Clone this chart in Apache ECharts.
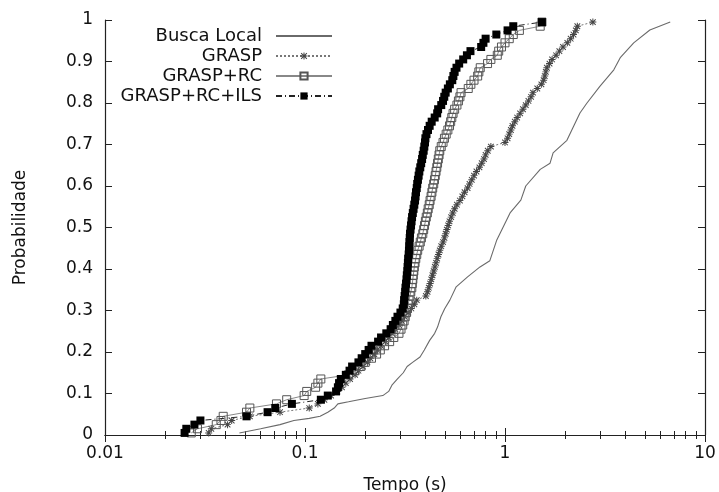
<!DOCTYPE html>
<html><head><meta charset="utf-8">
<script src="https://cdn.jsdelivr.net/npm/echarts@6/dist/echarts.min.js"></script>
<style>html,body{margin:0;padding:0;background:#fff}#c{width:719px;height:492px}</style>
</head><body><div id="c"></div>
<script>
const seriesNames = ['Busca Local', 'GRASP', 'GRASP+RC', 'GRASP+RC+ILS'];
const xTickLabels = ['0.01', '0.1', '1', '10'];
const yTickLabels = ['0','0.1','0.2','0.3','0.4','0.5','0.6','0.7','0.8','0.9','1'];

// cumulative probability levels of the 100 runs (GRASP, GRASP+RC, GRASP+RC+ILS)
const probLevels = [0.005,0.015,0.025,0.035,0.045,0.055,0.065,0.075,0.085,0.095,
  0.105,0.115,0.125,0.135,0.145,0.155,0.165,0.175,0.185,0.195,
  0.205,0.215,0.225,0.235,0.245,0.255,0.265,0.275,0.285,0.295,
  0.305,0.315,0.325,0.335,0.345,0.355,0.365,0.375,0.385,0.395,
  0.405,0.415,0.425,0.435,0.445,0.455,0.465,0.475,0.485,0.495,
  0.505,0.515,0.525,0.535,0.545,0.555,0.565,0.575,0.585,0.595,
  0.605,0.615,0.625,0.635,0.645,0.655,0.665,0.675,0.685,0.695,
  0.705,0.715,0.725,0.735,0.745,0.755,0.765,0.775,0.785,0.795,
  0.805,0.815,0.825,0.835,0.845,0.855,0.865,0.875,0.885,0.895,
  0.905,0.915,0.925,0.935,0.945,0.955,0.965,0.975,0.985,0.995];

const graspTimes = [0.033,0.034,0.041,0.043,0.053,0.075,0.105,0.116,0.125,0.135,
  0.145,0.153,0.160,0.168,0.178,0.185,0.195,0.205,0.212,0.222,
  0.230,0.240,0.252,0.262,0.272,0.283,0.295,0.305,0.315,0.328,
  0.340,0.352,0.362,0.402,0.410,0.416,0.422,0.428,0.434,0.440,
  0.446,0.452,0.458,0.465,0.472,0.480,0.490,0.498,0.505,0.512,
  0.520,0.528,0.538,0.548,0.560,0.575,0.595,0.612,0.628,0.650,
  0.665,0.682,0.700,0.720,0.745,0.765,0.785,0.800,0.820,0.850,
  1.00,1.03,1.05,1.07,1.09,1.12,1.15,1.19,1.23,1.27,
  1.31,1.35,1.38,1.45,1.52,1.56,1.58,1.60,1.62,1.67,
  1.72,1.80,1.87,1.95,2.05,2.13,2.20,2.26,2.30,2.75];

const rcTimes = [0.027,0.029,0.036,0.038,0.039,0.051,0.053,0.072,0.081,0.099,
  0.102,0.113,0.116,0.120,0.165,0.178,0.190,0.200,0.215,0.228,
  0.238,0.250,0.265,0.278,0.295,0.302,0.308,0.313,0.317,0.322,
  0.325,0.328,0.331,0.335,0.338,0.342,0.344,0.346,0.348,0.350,
  0.352,0.355,0.358,0.362,0.366,0.372,0.377,0.382,0.388,0.392,
  0.396,0.400,0.404,0.409,0.413,0.418,0.422,0.427,0.431,0.435,
  0.440,0.444,0.448,0.452,0.456,0.460,0.464,0.468,0.472,0.480,
  0.490,0.498,0.508,0.518,0.528,0.535,0.542,0.550,0.560,0.575,
  0.585,0.595,0.603,0.655,0.675,0.700,0.730,0.740,0.752,0.818,
  0.850,0.915,0.930,0.960,1.00,1.05,1.10,1.18,1.50,1.53];

const ilsTimes = [0.025,0.0255,0.028,0.030,0.051,0.065,0.071,0.086,0.120,0.130,
  0.143,0.146,0.148,0.151,0.160,0.167,0.172,0.185,0.192,0.200,
  0.208,0.215,0.232,0.240,0.255,0.268,0.275,0.283,0.290,0.300,
  0.308,0.312,0.313,0.315,0.317,0.318,0.320,0.322,0.323,0.325,
  0.326,0.327,0.328,0.330,0.331,0.332,0.333,0.334,0.335,0.337,
  0.339,0.341,0.343,0.346,0.349,0.352,0.355,0.357,0.359,0.362,
  0.364,0.367,0.370,0.373,0.377,0.381,0.385,0.388,0.392,0.395,
  0.398,0.400,0.405,0.412,0.420,0.430,0.445,0.458,0.463,0.480,
  0.490,0.497,0.505,0.518,0.530,0.545,0.552,0.560,0.572,0.590,
  0.618,0.645,0.672,0.760,0.780,0.800,0.905,1.03,1.10,1.53];

const buscaTimes = [0.047,0.060,0.075,0.088,0.105,0.119,0.130,0.140,0.146,0.165,
  0.200,0.245,0.262,0.272,0.290,0.310,0.324,0.345,0.376,0.395,
  0.420,0.445,0.460,0.478,0.500,0.530,0.570,0.650,0.750,0.840,
  0.910,1.06,1.20,1.27,1.50,1.68,1.74,2.04,2.37,2.57,
  2.98,3.50,3.78,4.40,5.30,6.70];
const buscaProbs = [0.005,0.015,0.025,0.035,0.040,0.045,0.055,0.065,0.075,0.080,
  0.088,0.095,0.105,0.120,0.135,0.150,0.165,0.175,0.188,0.205,
  0.228,0.245,0.260,0.285,0.305,0.325,0.357,0.381,0.405,0.420,
  0.470,0.535,0.566,0.600,0.640,0.655,0.680,0.710,0.776,0.800,
  0.840,0.880,0.910,0.945,0.976,0.995];

const pair = (xs, ys) => xs.map((x, i) => [x, ys[i]]);
const FONT = 'DejaVu Sans';
const starPath = 'path://M0,4.3L10,4.3L10,5.7L0,5.7Z M4.3,0L5.7,0L5.7,10L4.3,10Z M0.5,1.5L1.5,0.5L9.5,8.5L8.5,9.5Z M8.5,0.5L9.5,1.5L1.5,9.5L0.5,8.5Z';

const chart = echarts.init(document.getElementById('c'), null, {renderer: 'canvas'});
const xBase = {
  type: 'log', logBase: 10, min: 0.01, max: 10,
  axisLine: {show: true, lineStyle: {color: '#222', width: 1.2}},
  axisTick: {show: true, inside: true, length: 7, lineStyle: {color: '#222'}},
  minorTick: {show: true, splitNumber: 9, length: 4, lineStyle: {color: '#222'}},
  splitLine: {show: false}, minorSplitLine: {show: false}
};
const yBase = {
  type: 'value', min: 0, max: 1, interval: 0.1,
  axisLine: {show: true, lineStyle: {color: '#222', width: 1.2}},
  axisTick: {show: true, inside: true, length: 7, lineStyle: {color: '#222'}},
  splitLine: {show: false}
};
chart.setOption({
  animation: false,
  backgroundColor: '#fff',
  grid: {left: 105, right: 14, top: 20, bottom: 57, containLabel: false, outerBoundsMode: 'none'},
  legend: {
    orient: 'vertical', right: 386, top: 26, align: 'right',
    itemWidth: 56, itemHeight: 9, itemGap: 0, padding: 0,
    textStyle: {fontFamily: FONT, fontSize: 18, color: '#111', lineHeight: 20, padding: [0, 9, 0, 0]},
    data: [
      {name: seriesNames[0], itemStyle: {opacity: 0}},
      {name: seriesNames[1]},
      {name: seriesNames[2]},
      {name: seriesNames[3]}
    ]
  },
  xAxis: [
    Object.assign({}, xBase, {
      position: 'bottom',
      name: 'Tempo (s)', nameLocation: 'middle', nameGap: 42,
      nameTextStyle: {fontFamily: FONT, fontSize: 17, color: '#111'},
      axisLabel: {show: true, margin: 10, fontFamily: FONT, fontSize: 17, color: '#111',
        formatter: v => { const k = Math.round(Math.log10(v)) + 2; return xTickLabels[k] !== undefined ? xTickLabels[k] : ''; }}
    }),
    Object.assign({}, xBase, {position: 'top', axisLabel: {show: false}})
  ],
  yAxis: [
    Object.assign({}, yBase, {
      position: 'left',
      name: 'Probabilidade', nameLocation: 'middle', nameGap: 76, nameRotate: 90,
      nameTextStyle: {fontFamily: FONT, fontSize: 17, color: '#111'},
      axisLabel: {show: true, margin: 12, fontFamily: FONT, fontSize: 17, color: '#111',
        formatter: v => yTickLabels[Math.round(v * 10)]}
    }),
    Object.assign({}, yBase, {position: 'right', axisLabel: {show: false}})
  ],
  series: [
    {
      name: seriesNames[0], type: 'line', xAxisIndex: 0, yAxisIndex: 0,
      data: pair(buscaTimes, buscaProbs),
      symbol: 'none', showSymbol: false,
      lineStyle: {color: '#6a6a6a', width: 1.1, type: 'solid'},
      itemStyle: {color: '#6a6a6a'}
    },
    {
      name: seriesNames[1], type: 'line', xAxisIndex: 0, yAxisIndex: 0,
      data: pair(graspTimes, probLevels),
      symbol: starPath, symbolSize: 7,
      lineStyle: {color: '#777', width: 1, type: [2, 2]},
      itemStyle: {color: '#444', borderWidth: 0}
    },
    {
      name: seriesNames[2], type: 'line', xAxisIndex: 0, yAxisIndex: 0,
      data: pair(rcTimes, probLevels),
      symbol: 'rect', symbolSize: 8,
      lineStyle: {color: '#888', width: 1, type: 'solid'},
      itemStyle: {color: 'rgba(255,255,255,0)', borderColor: '#555', borderWidth: 1}
    },
    {
      name: seriesNames[3], type: 'line', xAxisIndex: 0, yAxisIndex: 0,
      data: pair(ilsTimes, probLevels),
      symbol: 'rect', symbolSize: 8,
      lineStyle: {color: '#222', width: 1, type: [6, 3, 1, 3]},
      itemStyle: {color: '#000', borderColor: '#000', borderWidth: 0}
    }
  ]
});
</script></body></html>
